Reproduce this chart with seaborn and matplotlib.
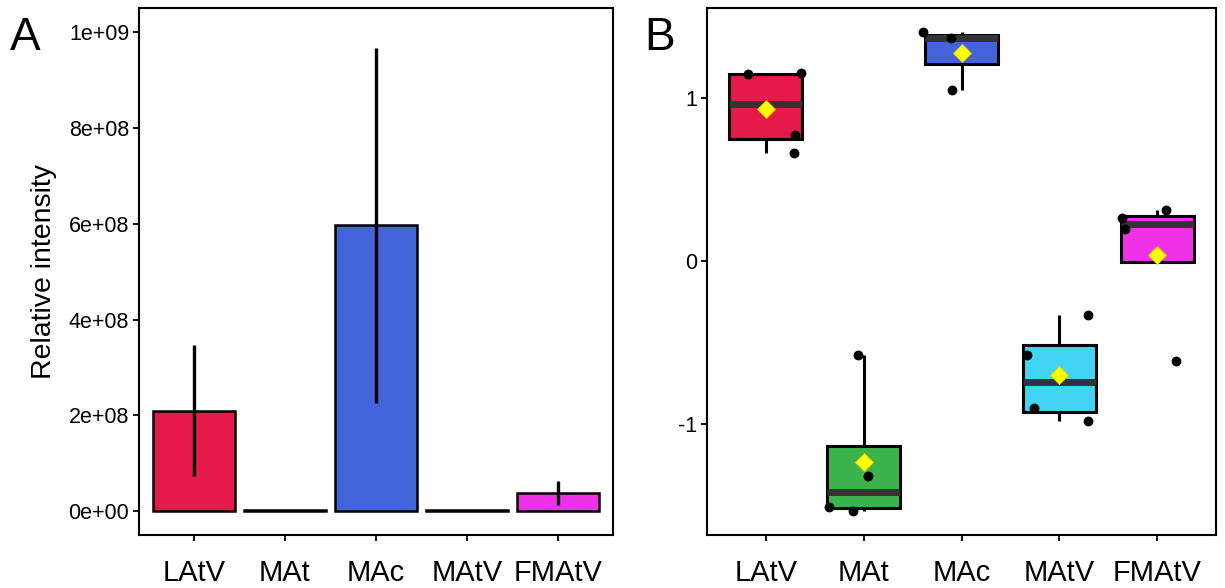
import numpy as np
import pandas as pd
import matplotlib
matplotlib.use('Agg')
import matplotlib.pyplot as plt
import seaborn as sns

# dados
grupos = ['LAtV', 'MAt', 'MAc', 'MAtV', 'FMAtV']
cores = ['#e6194B', '#3cb44b', '#4363d8', '#42d4f4', '#f032e6']

# painel A: media e desvio da intensidade
media_int = [2.10e8, 1.5e6, 5.97e8, 2.5e6, 3.8e7]
desvio_int = [1.37e8, 0.0, 3.71e8, 0.0, 2.5e7]
yticks_a = [0, 2e8, 4e8, 6e8, 8e8, 1e9]
yticklabels_a = ['0e+00', '2e+08', '4e+08', '6e+08', '8e+08', '1e+09']

# painel B: valores individuais (escala padronizada)
vals_latv = [1.146, 1.152, 0.774, 0.659]
vals_mat = [-0.573, -1.317, -1.506, -1.530]
vals_mac = [1.402, 1.366, 1.049]
vals_matv = [-0.329, -0.573, -0.902, -0.982]
vals_fmatv = [0.262, 0.195, 0.311, -0.610]
# deslocamento horizontal (jitter) de cada ponto
jit_latv = [-0.18, 0.36, 0.30, 0.29]
jit_mat = [-0.06, 0.04, -0.35, -0.11]
jit_mac = [-0.39, -0.11, -0.10]
jit_matv = [0.29, -0.33, -0.26, 0.29]
jit_fmatv = [-0.36, -0.33, 0.09, 0.19]
yticks_b = [-1, 0, 1]

valores = [vals_latv, vals_mat, vals_mac, vals_matv, vals_fmatv]
jitters = [jit_latv, jit_mat, jit_mac, jit_matv, jit_fmatv]

df_a = pd.DataFrame({'Grupo': grupos, 'Media': media_int, 'DP': desvio_int})
df_b = pd.DataFrame({
    'Grupo': [g for g, v in zip(grupos, valores) for _ in v],
    'Valor': [x for v in valores for x in v],
    'Jitter': [x for j in jitters for x in j],
})
df_b['Pos'] = df_b['Grupo'].map({g: i for i, g in enumerate(grupos)}) + df_b['Jitter']
medias_b = df_b.groupby('Grupo', sort=False)['Valor'].mean().reindex(grupos)

sns.set_style('white')
plt.rcParams['font.family'] = ['Liberation Sans', 'DejaVu Sans']
plt.rcParams['axes.unicode_minus'] = False
plt.rcParams['text.color'] = 'black'
plt.rcParams['axes.labelcolor'] = 'black'
plt.rcParams['xtick.color'] = 'black'
plt.rcParams['ytick.color'] = 'black'

fig = plt.figure(figsize=(12.25, 5.88), dpi=100)
ax1 = fig.add_axes([139 / 1225, 1 - 535 / 588, 474 / 1225, 527 / 588])
ax2 = fig.add_axes([707 / 1225, 1 - 535 / 588, 509 / 1225, 527 / 588])

#Painel A (barras)
sns.barplot(data=df_a, x='Grupo', y='Media', hue='Grupo', palette=cores, order=grupos,
            hue_order=grupos, width=0.9, errorbar=None, legend=False, saturation=1,
            edgecolor='black', linewidth=1.8, ax=ax1)
ax1.errorbar(np.arange(len(grupos)), df_a['Media'], yerr=df_a['DP'], fmt='none',
             ecolor='black', elinewidth=2.4, capsize=0, zorder=5)
ax1.set_xlim(-0.6, 4.6)
ax1.set_ylim(-0.05e9, 1.051e9)
ax1.set_yticks(yticks_a)
ax1.set_yticklabels(yticklabels_a)
ax1.set_xlabel('')
ax1.set_ylabel('Relative intensity', fontsize=20.5)
ax1.yaxis.set_label_coords(-0.172, 0.5)

#Painel B (boxplot + pontos)
sns.boxplot(data=df_b, x='Grupo', y='Valor', hue='Grupo', palette=cores, order=grupos,
            hue_order=grupos, width=0.75, showfliers=False, legend=False, saturation=1,
            linewidth=2.2, linecolor='black',
            medianprops={'color': '#333333', 'linewidth': 5},
            whiskerprops={'linewidth': 2.2}, capprops={'linewidth': 0},
            ax=ax2)
ax2.scatter(df_b['Pos'], df_b['Valor'], s=50, color='black', zorder=6, linewidths=0)
ax2.scatter(np.arange(len(grupos)), medias_b.values, marker='D', s=85, color='#ffff00',
            edgecolors='#e8c800', linewidths=0.6, zorder=7)
ax2.set_xlim(-0.6, 4.6)
ax2.set_ylim(-1.677, 1.549)
ax2.set_yticks(yticks_b)
ax2.set_yticklabels([str(t) for t in yticks_b])
ax2.set_xlabel('')
ax2.set_ylabel('')

for ax in (ax1, ax2):
    for s in ax.spines.values():
        s.set_visible(True)
        s.set_color('black')
        s.set_linewidth(1.5)
    ax.tick_params(axis='both', which='both', direction='out', length=4, width=1.3,
                   color='black', labelcolor='black', left=True, bottom=True)
    ax.tick_params(axis='y', labelsize=15.5, pad=3)
    ax.tick_params(axis='x', labelsize=21, pad=13)

fig.text(10 / 1225, 1 - 50 / 588, 'A', fontsize=33, va='baseline', ha='left')
fig.text(644 / 1225, 1 - 50 / 588, 'B', fontsize=33, va='baseline', ha='left')

plt.savefig('out.png', dpi=100)
